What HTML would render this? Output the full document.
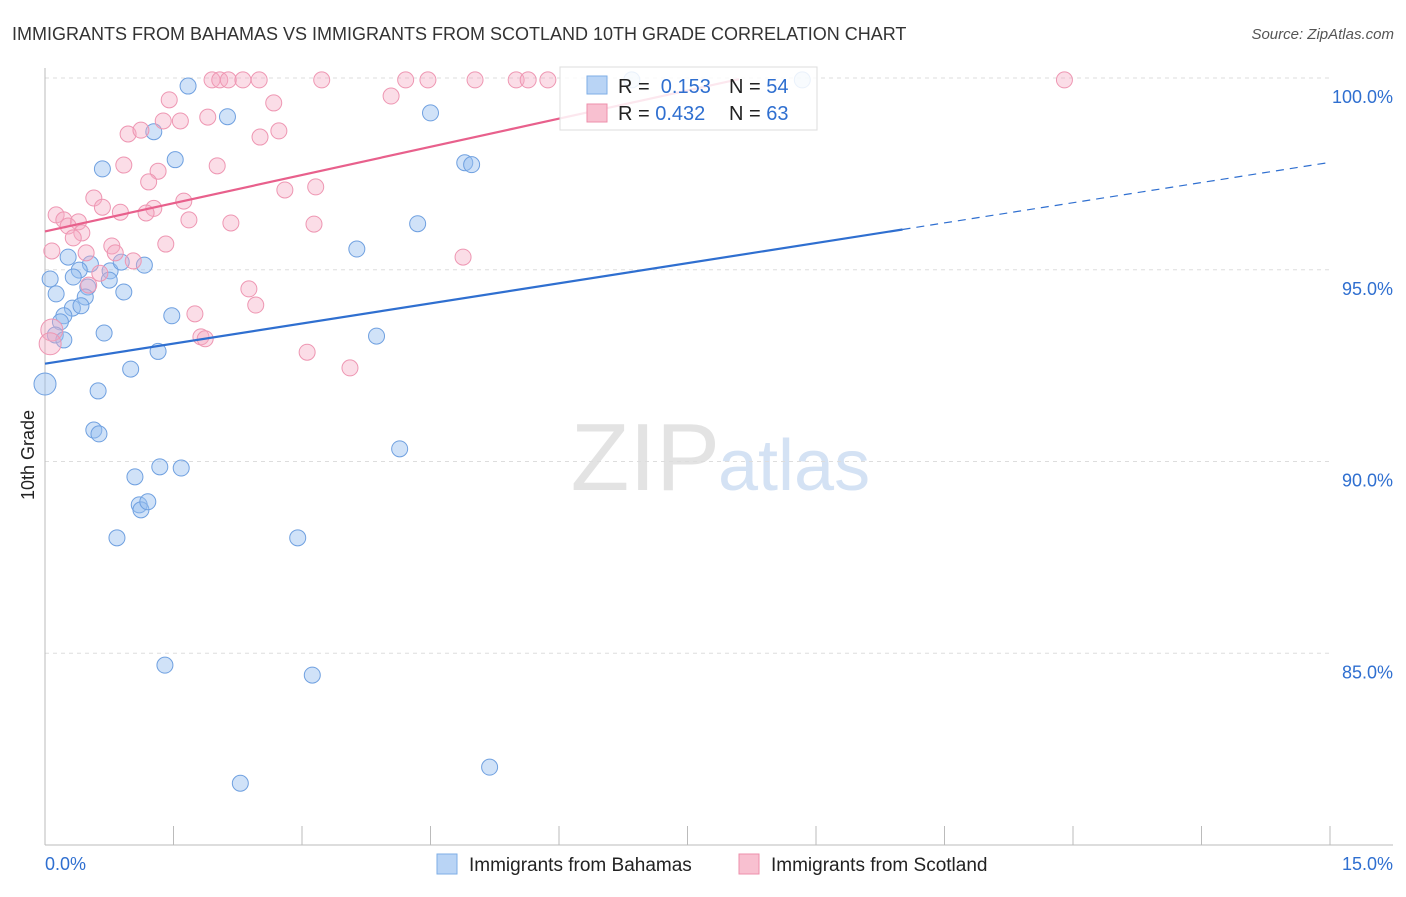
<!DOCTYPE html>
<html><head><meta charset="utf-8"><style>
body{margin:0;background:#fff;font-family:"Liberation Sans",sans-serif;}
svg text{font-family:"Liberation Sans",sans-serif;}
</style></head><body>
<svg width="1406" height="892">
<text x="12" y="40" font-size="18" fill="#333">IMMIGRANTS FROM BAHAMAS VS IMMIGRANTS FROM SCOTLAND 10TH GRADE CORRELATION CHART</text>
<text x="1394" y="39" font-size="15" fill="#555" font-style="italic" text-anchor="end">Source: ZipAtlas.com</text>
<text x="720" y="490" font-size="96" fill="#e3e3e3" font-family="Liberation Serif" text-anchor="end">ZIP</text>
<text x="718" y="490" font-size="72" fill="#d4e2f4">atlas</text>
<g id="grid"></g>
<g id="axes"></g>
<g id="pts"></g>
<g id="lines"></g>
<text x="34" y="455" font-size="18" fill="#222" transform="rotate(-90 34 455)" text-anchor="middle">10th Grade</text>
<g>
<rect x="560" y="67" width="257" height="63" fill="rgba(255,255,255,0.85)" stroke="#ddd"/>
<rect x="587" y="76" width="20" height="18" fill="#b9d4f5" stroke="#7eaee6"/>
<rect x="587" y="104" width="20" height="18" fill="#f8c0d0" stroke="#ee8fab"/>
<text x="618" y="93" font-size="20" fill="#222">R = <tspan fill="#2f6fd0">&#160;0.153</tspan></text>
<text x="729" y="93" font-size="20" fill="#222">N = <tspan fill="#2f6fd0">54</tspan></text>
<text x="618" y="120" font-size="20" fill="#222">R = <tspan fill="#2f6fd0">0.432</tspan></text>
<text x="729" y="120" font-size="20" fill="#222">N = <tspan fill="#2f6fd0">63</tspan></text>
</g>
<g>
<rect x="437" y="854" width="20" height="20" fill="#b9d4f5" stroke="#7eaee6"/>
<text x="469" y="871" font-size="19" fill="#222">Immigrants from Bahamas</text>
<rect x="739" y="854" width="20" height="20" fill="#f8c0d0" stroke="#ee8fab"/>
<text x="771" y="871" font-size="19" fill="#222">Immigrants from Scotland</text>
</g>
</svg>
<script>
const blueX=[1.67,6.85,8.84,2.13,4.5,1.27,1.52,0.67,4.9,4.98,4.35,3.64,0.27,0.53,1.16,0.4,0.76,0.06,0.33,0.89,0.75,0.5,0.13,0.92,0.47,0.32,0.42,0.22,0.18,1.48,0.69,0.12,0.22,3.87,1.32,1.0,0.0,0.62,0.57,0.63,4.14,1.34,1.59,1.05,1.1,1.12,1.2,0.84,2.95,1.4,3.12,2.28,5.19];
const blueY=[99.79,99.95,99.95,98.99,99.09,98.6,97.87,97.63,97.79,97.74,96.2,95.54,95.33,95.15,95.12,94.99,94.97,94.76,94.81,95.2,94.73,94.55,94.37,94.42,94.29,94.0,94.06,93.8,93.64,93.8,93.35,93.3,93.17,93.27,92.87,92.41,92.02,91.84,90.82,90.72,90.33,89.86,89.83,89.6,88.87,88.74,88.95,88.01,88.01,84.69,84.43,81.61,82.03];
const pinkX=[1.95,2.04,2.14,2.31,2.5,3.23,4.21,4.47,5.02,5.5,5.64,5.87,11.9,1.45,2.67,4.04,1.9,1.58,1.38,2.73,2.51,0.97,1.12,0.92,1.32,2.01,1.21,2.8,3.16,0.57,1.62,0.67,1.27,0.88,1.18,0.13,0.22,0.39,0.27,2.17,3.14,1.68,0.43,0.33,0.78,1.41,0.48,0.08,0.82,1.03,4.88,0.64,0.51,2.38,2.46,1.75,0.08,0.06,1.82,1.87,3.06,3.56];
const pinkY=[99.95,99.95,99.95,99.95,99.95,99.95,99.95,99.95,99.95,99.95,99.95,99.95,99.95,99.43,99.35,99.53,98.98,98.88,98.88,98.62,98.46,98.54,98.64,97.73,97.57,97.71,97.29,97.08,97.16,96.87,96.79,96.63,96.6,96.5,96.48,96.43,96.3,96.25,96.14,96.22,96.19,96.3,95.96,95.83,95.62,95.67,95.44,95.49,95.44,95.23,95.33,94.91,94.6,94.5,94.08,93.85,93.43,93.07,93.25,93.2,92.85,92.44];
const yTicks=[100,95,90,85];
const xTickVals=[0,1.5,3,4.5,6,7.5,9,10.5,12,13.5,15];
const sx=v=>45+v/15*1285, sy=v=>78+(100-v)*38.35;
const NS='http://www.w3.org/2000/svg';
function mk(t,a,p){const e=document.createElementNS(NS,t);for(const k in a)e.setAttribute(k,a[k]);p.appendChild(e);return e;}
const grid=document.getElementById('grid'),axes=document.getElementById('axes'),pts=document.getElementById('pts'),lines=document.getElementById('lines');
yTicks.forEach(v=>{
 const l=mk('line',{x1:45,x2:1330,y1:sy(v),y2:sy(v),stroke:'#ddd','stroke-dasharray':'4,4'},grid);
 
 
 const t=mk('text',{x:1393,y:sy(v)+25,'font-size':18,fill:'#2f6fd0','text-anchor':'end'},grid);
 t.textContent=v.toFixed(1)+'%';
 
 
});
const ax=mk('line',{x1:45,x2:45,y1:68,y2:845,stroke:'#bbb'},axes);


const bx=mk('line',{x1:45,x2:1393,y1:845,y2:845,stroke:'#bbb'},axes);


xTickVals.forEach(v=>{
 const l=mk('line',{x1:sx(v),x2:sx(v),y1:826,y2:845,stroke:'#bbb'},axes);
 
 
});
[[0,'0.0%','start',45],[15,'15.0%','end',1393]].forEach(a=>{
 const t=mk('text',{x:a[3],y:870,'font-size':18,fill:'#2f6fd0','text-anchor':a[2]},axes);
 t.textContent=a[1];
 
 
});
blueX.forEach((x,i)=>{
 const c=mk('circle',{cx:sx(x),cy:sy(blueY[i]),r:i==36?11:8,fill:'rgba(150,190,240,0.45)',stroke:'#6fa0e0','stroke-width':1},pts);
 
 
});
pinkX.forEach((x,i)=>{
 const c=mk('circle',{cx:sx(x),cy:sy(pinkY[i]),r:(i==56||i==57)?11:8,fill:'rgba(245,170,195,0.4)',stroke:'#ee96b2','stroke-width':1},pts);
 
 
});
const bl=mk('line',{x1:sx(0),y1:sy(92.55),x2:sx(10.01),y2:sy(96.05),stroke:'#2f6fd0','stroke-width':2.2},lines);


const bd=mk('line',{x1:sx(10.01),y1:sy(96.05),x2:sx(15),y2:sy(97.8),stroke:'#2f6fd0','stroke-width':1.2,'stroke-dasharray':'8,6'},lines);


const pl=mk('line',{x1:sx(0),y1:sy(96.0),x2:sx(8.1),y2:sy(99.97),stroke:'#e8608c','stroke-width':2.2},lines);


</script>
</body></html>
